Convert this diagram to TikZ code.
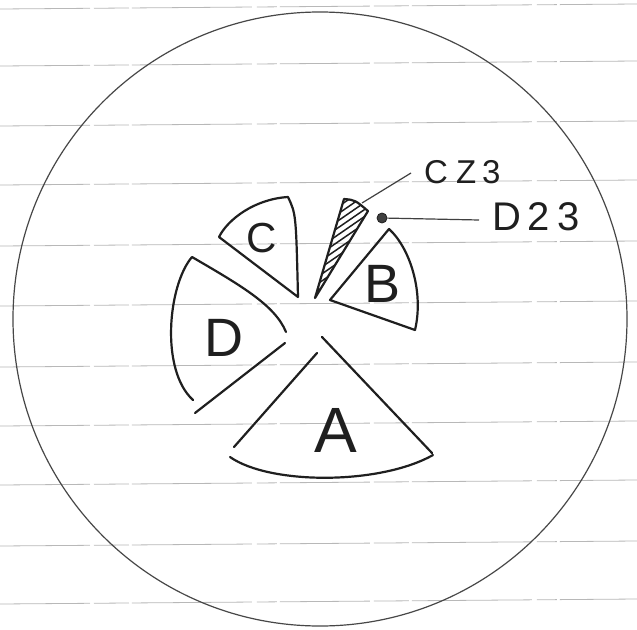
\documentclass[tikz,border=0pt]{standalone}
\usepackage{fontspec}
\newfontfamily\hand{Liberation Sans}
\begin{document}
\begin{tikzpicture}[x=1pt,y=-1pt,
  ruled/.style={black!28,line width=0.8pt,dash pattern=on 90pt off 4pt on 35pt off 3pt on 120pt off 5pt on 20pt off 3pt},
  wedge/.style={black!88,line width=2.2pt,line join=round,line cap=round},
  leader/.style={black!75,line width=1.2pt},
  lbl/.style={font=\hand,text=black!88,inner sep=0pt}]
\useasboundingbox (0,0) rectangle (637,629);
\fill[white] (0,0) rectangle (637,629);
% ruled paper lines
\foreach \y in {9,66,126,185,246,306,367,426,485,546,604}
  \draw[ruled] (0,\y) -- (637,\y-5);
% big circle
\node[circle,draw=black!72,line width=1.2pt,minimum size=614pt,inner sep=0pt] (disk) at (320,319) {};
% wedge C
\draw[wedge] (298,297) -- (219,237) .. controls (228,219) and (255,199) .. (288,197)
  .. controls (296,214) .. (298,297);
% wedge B
\draw[wedge] (330,300) -- (389,229) .. controls (410,248) and (424,292) .. (415,330) -- cycle;
% wedge D
\draw[wedge] (193,400) .. controls (160,370) and (168,285) .. (192,257)
  .. controls (240,285) and (275,305) .. (286,332);
\draw[wedge] (195,413) -- (285,343);
% wedge A
\draw[wedge] (317,353) -- (234,447);
\draw[wedge] (322,337) -- (432,453);
\draw[wedge] (230,457) .. controls (270,485) and (380,485) .. (433,455);
% hatched sliver
\begin{scope}
  \clip (315,298) -- (344,199) .. controls (355,200) .. (368,211) -- cycle;
  \foreach \y in {212,219,...,350}
    \draw[black!88,line width=1.5pt] (300,\y) -- (390,\y-62);
\end{scope}
\draw[wedge] (315,298) -- (344,199) .. controls (355,200) .. (368,211) -- cycle;
% labels
\node[lbl,font=\hand\fontsize{42}{42}\selectfont] (lc) at (262,238) {C};
\node[lbl,font=\hand\fontsize{54}{54}\selectfont] (lb) at (383,284) {B};
\node[lbl,font=\hand\fontsize{54}{54}\selectfont] (ld) at (224,338) {D};
\node[lbl,font=\hand\fontsize{64}{64}\selectfont] (la) at (336,430) {A};
% callouts
\coordinate (cztip) at (362,203);
\node[lbl,anchor=west,font=\hand\fontsize{33}{33}\selectfont] (cz3) at (424,172) {C\hspace{8pt}Z\hspace{6pt}3};
\draw[leader] (cztip) -- ([xshift=-13pt,yshift=-1pt]cz3.west);
\node[circle,fill=black!75,draw=black!88,line width=0.8pt,minimum size=10pt,inner sep=0pt] (dot) at (382,218) {};
\node[lbl,anchor=west,font=\hand\fontsize{40}{40}\selectfont] (d23) at (492,217) {D\hspace{6pt}2\hspace{8pt}3};
\draw[leader] (dot) -- ([xshift=-13pt,yshift=-3pt]d23.west);
\end{tikzpicture}
\end{document}
